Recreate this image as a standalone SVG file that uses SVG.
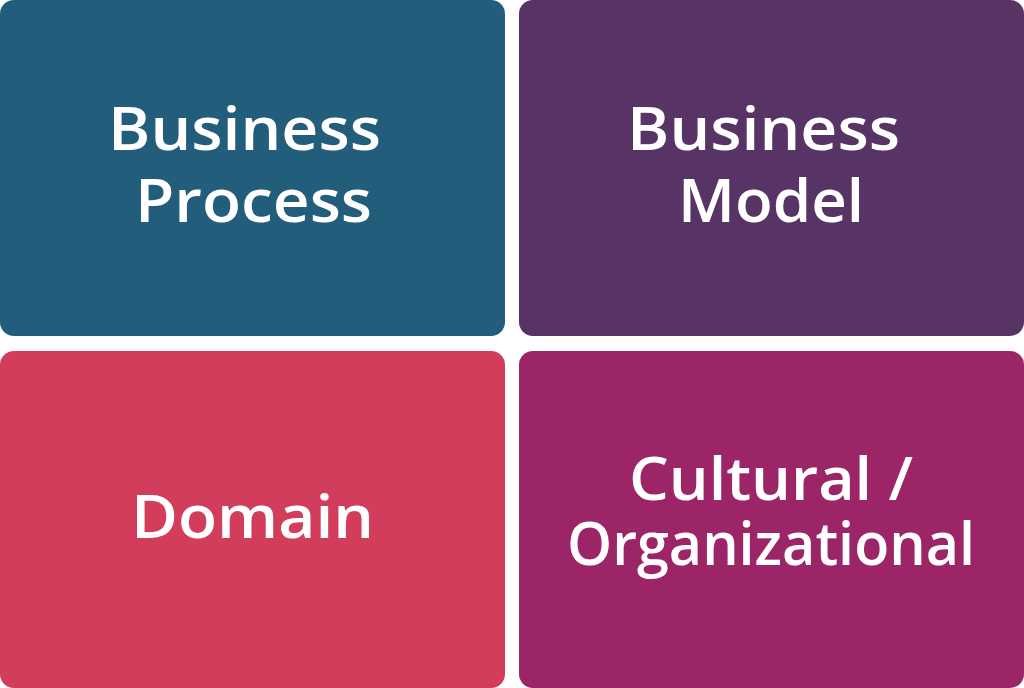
<svg xmlns="http://www.w3.org/2000/svg" width="1024" height="688" viewBox="0 0 1024 688">
<style>
.box{stroke:none}
.t{font-family:"Open Sans","Noto Sans",sans-serif;font-weight:600;font-size:60px;fill:#ffffff;text-anchor:middle}
</style>
<rect x="0" y="0" width="1024" height="688" fill="#ffffff"/>
<g id="business-process">
<rect class="box" x="0" y="0" width="505" height="336" rx="14" fill="#225D7B"/>
<text class="t" x="244.5" y="150" textLength="273" lengthAdjust="spacingAndGlyphs">Business</text>
<text class="t" x="253.5" y="222" textLength="237" lengthAdjust="spacingAndGlyphs">Process</text>
</g>
<g id="business-model">
<rect class="box" x="519" y="0" width="505" height="336" rx="14" fill="#583366"/>
<text class="t" x="763.5" y="150" textLength="273" lengthAdjust="spacingAndGlyphs">Business</text>
<text class="t" x="771" y="222" textLength="186" lengthAdjust="spacingAndGlyphs">Model</text>
</g>
<g id="domain">
<rect class="box" x="0" y="351" width="505" height="337" rx="14" fill="#D23D5B"/>
<text class="t" x="252.5" y="538" textLength="243" lengthAdjust="spacingAndGlyphs">Domain</text>
</g>
<g id="cultural-organizational">
<rect class="box" x="519" y="351" width="505" height="337" rx="14" fill="#9C2568"/>
<text class="t" x="771" y="500" textLength="284" lengthAdjust="spacingAndGlyphs">Cultural /</text>
<text class="t" x="771" y="565" textLength="408" lengthAdjust="spacingAndGlyphs">Organizational</text>
</g>
<g id="connectors"></g>
</svg>
